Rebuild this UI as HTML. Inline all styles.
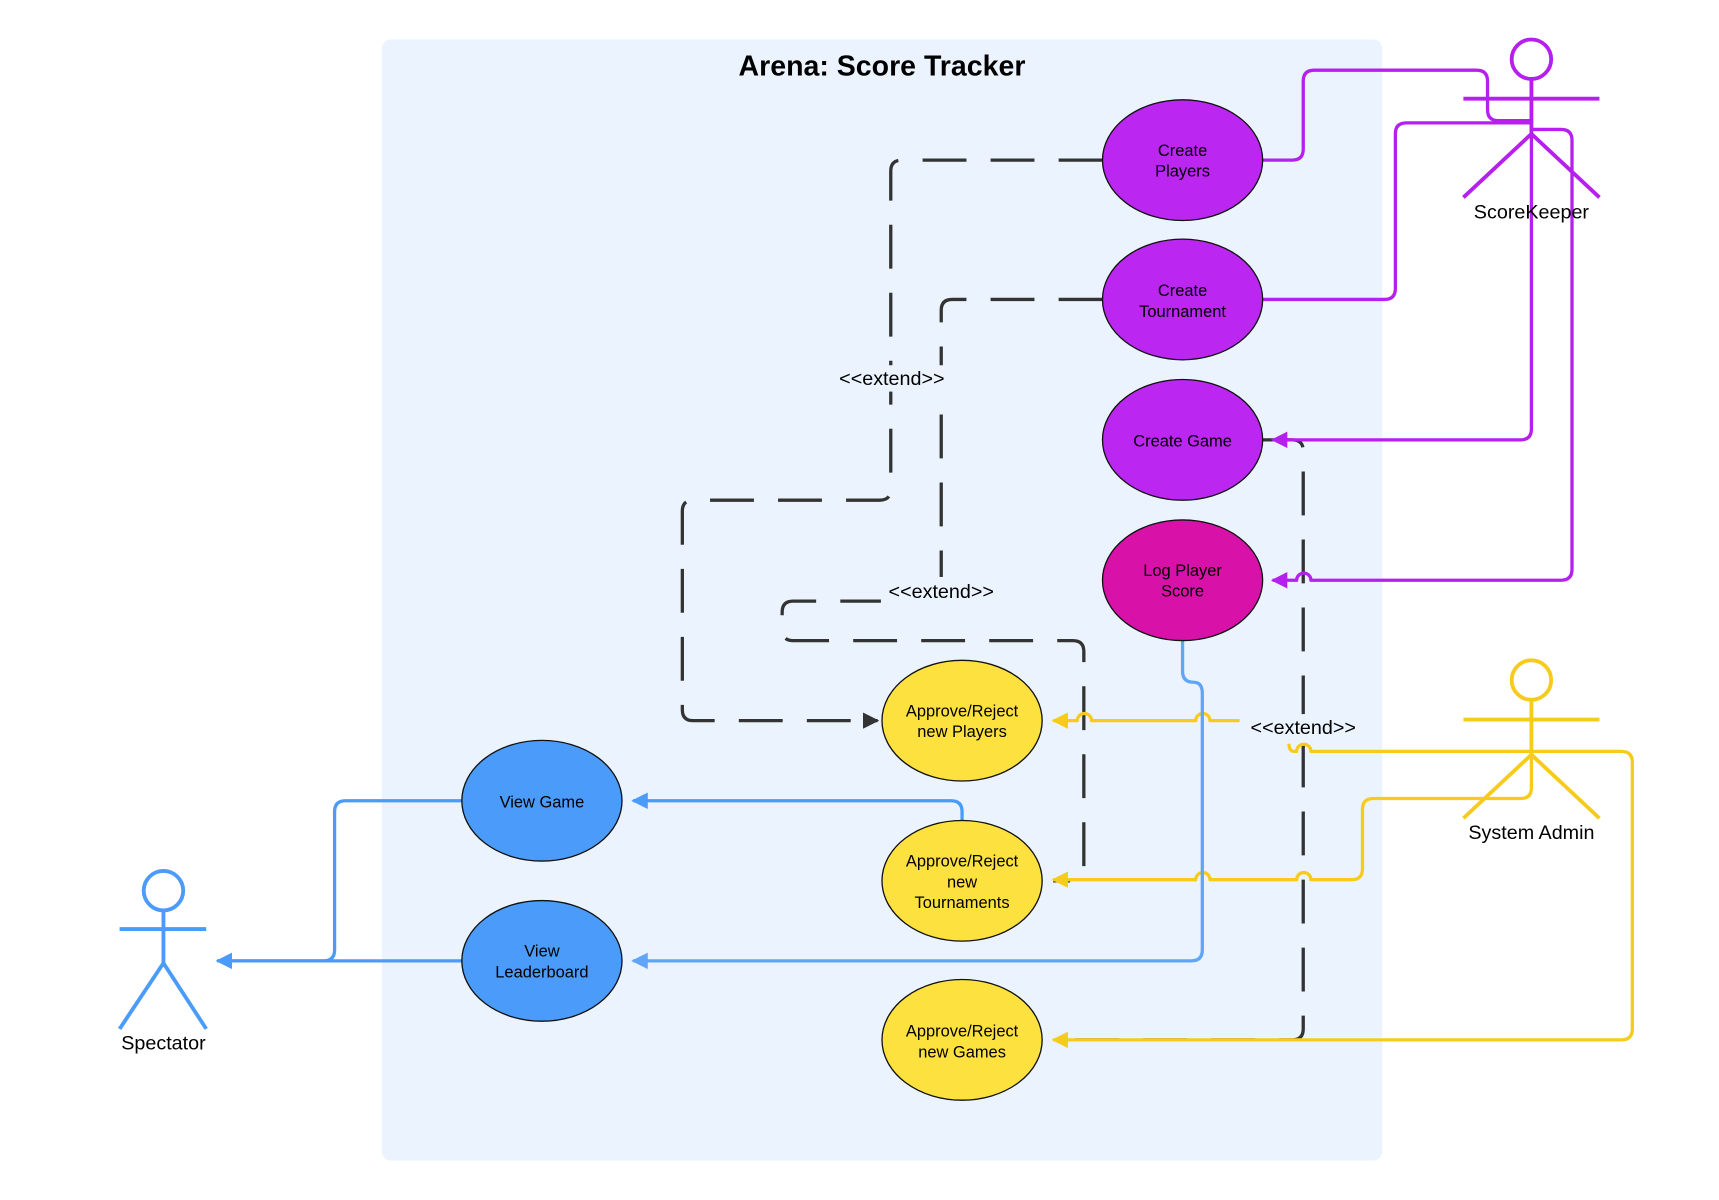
<!DOCTYPE html>
<html><head><meta charset="utf-8"><style>
html,body{margin:0;padding:0;background:#fff;}
svg{display:block;}
text{font-family:"Liberation Sans",sans-serif;}
</style></head><body>
<svg width="1719" height="1200" viewBox="0 0 1567 1094" preserveAspectRatio="none" xmlns="http://www.w3.org/2000/svg">
<defs>
<marker id="ap" viewBox="0 0 10 10" refX="9" refY="5" markerWidth="5" markerHeight="5" orient="auto-start-reverse"><path d="M0,0 L10,5 L0,10 z" fill="#B620EE"/></marker>
<marker id="ay" viewBox="0 0 10 10" refX="9" refY="5" markerWidth="5" markerHeight="5" orient="auto-start-reverse"><path d="M0,0 L10,5 L0,10 z" fill="#F7CB1C"/></marker>
<marker id="ab" viewBox="0 0 10 10" refX="9" refY="5" markerWidth="5" markerHeight="5" orient="auto-start-reverse"><path d="M0,0 L10,5 L0,10 z" fill="#4A9BFA"/></marker>
<marker id="al" viewBox="0 0 10 10" refX="9" refY="5" markerWidth="5" markerHeight="5" orient="auto-start-reverse"><path d="M0,0 L10,5 L0,10 z" fill="#60A5FA"/></marker>
<marker id="ak" viewBox="0 0 10 10" refX="9" refY="5" markerWidth="5" markerHeight="5" orient="auto-start-reverse"><path d="M0,0 L10,5 L0,10 z" fill="#333"/></marker>
</defs>
<rect x="348" y="36" width="912" height="1022" rx="8" fill="#EBF4FE"/>
<text x="804" y="69" font-size="26" font-weight="bold" text-anchor="middle" fill="#000">Arena: Score Tracker</text>

<g fill="none" stroke-width="3" stroke-linejoin="round">
<g stroke="#333" stroke-dasharray="40 22">
<path d="M1005,146 H822 Q812,146 812,156 V446 Q812,456 802,456 H632 Q622,456 622,466 V647 Q622,657 632,657 H800" marker-end="url(#ak)"/>
<path d="M1005,273 H868 Q858,273 858,283 V538 M858,538 V548 H723 Q713,548 713,558 V574 Q713,584 723,584 H978 Q988,584 988,594 V793 Q988,803 978,803 H960"/>
<path d="M1151,401 H1178 Q1188,401 1188,411 V938 Q1188,948 1178,948 H960"/>
</g>
<g stroke="#B620EE">
<path d="M1151,146 H1178 Q1188,146 1188,136 V74 Q1188,64 1198,64 H1346 Q1356,64 1356,74 V100 Q1356,110 1366,110 H1396"/>
<path d="M1151,273 H1262 Q1272,273 1272,263 V122 Q1272,112 1282,112 H1396"/>
<path d="M1396,122 V391 Q1396,401 1386,401 H1160" marker-end="url(#ap)"/>
<path d="M1396,118 H1423 Q1433,118 1433,128 V519 Q1433,529 1423,529 H1195 A6,6 0 0 0 1182,529 H1160" marker-end="url(#ap)"/>
</g>
<g stroke="#F7CB1C">
<path d="M1396,685 H1195 A6,6 0 0 0 1182,685 H1180 Q1175,685 1175,678 M1130,657 H1103 A6,6 0 0 0 1090,657 H995 A6,6 0 0 0 982,657 H960" marker-end="url(#ay)"/>
<path d="M1396,685 H1478 Q1488,685 1488,695 V938 Q1488,948 1478,948 H960" marker-end="url(#ay)"/>
<path d="M1396,688 V718 Q1396,728 1386,728 H1252 Q1242,728 1242,738 V792 Q1242,802 1232,802 H1195 A6,6 0 0 0 1182,802 H1103 A6,6 0 0 0 1090,802 H960" marker-end="url(#ay)"/>
</g>
<path d="M1078,584 V612 Q1078,622 1088,622 Q1096,622 1096,632 V866 Q1096,876 1086,876 H577" stroke="#60A5FA" marker-end="url(#al)"/>
<path d="M877,748 V740 Q877,730 867,730 H577" stroke="#4A9BFA" marker-end="url(#ab)"/>
<path d="M421,730 H315 Q305,730 305,740 V866 Q305,876 295,876 H198" stroke="#4A9BFA" marker-end="url(#ab)"/>
<path d="M421,876 H198" stroke="#4A9BFA"/>
</g>

<g font-size="15" text-anchor="middle" fill="#000">
<rect x="758" y="333" width="110" height="24" fill="#EBF4FE"/>
<text x="813" y="351" font-size="18">&lt;&lt;extend&gt;&gt;</text>
<rect x="803" y="526" width="110" height="24" fill="#EBF4FE"/>
<text x="858" y="545" font-size="18">&lt;&lt;extend&gt;&gt;</text>
<rect x="1132" y="651" width="112" height="24" fill="#EBF4FE"/>
<text x="1188" y="669" font-size="18">&lt;&lt;extend&gt;&gt;</text>
</g>

<g stroke="#111" stroke-width="1.2">
<ellipse cx="1078" cy="146" rx="73" ry="55" fill="#BB26F0"/>
<ellipse cx="1078" cy="273" rx="73" ry="55" fill="#BB26F0"/>
<ellipse cx="1078" cy="401" rx="73" ry="55" fill="#BB26F0"/>
<ellipse cx="1078" cy="529" rx="73" ry="55" fill="#D812A8"/>
<ellipse cx="877" cy="657" rx="73" ry="55" fill="#FDE13F"/>
<ellipse cx="877" cy="803" rx="73" ry="55" fill="#FDE13F"/>
<ellipse cx="877" cy="948" rx="73" ry="55" fill="#FDE13F"/>
<ellipse cx="494" cy="730" rx="73" ry="55" fill="#4A9BFA"/>
<ellipse cx="494" cy="876" rx="73" ry="55" fill="#4A9BFA"/>
</g>
<g font-size="15" text-anchor="middle" fill="#000">
<text x="1078" y="142">Create</text><text x="1078" y="161">Players</text>
<text x="1078" y="270">Create</text><text x="1078" y="289">Tournament</text>
<text x="1078" y="407">Create Game</text>
<text x="1078" y="525">Log Player</text><text x="1078" y="544">Score</text>
<text x="877" y="653">Approve/Reject</text><text x="877" y="672">new Players</text>
<text x="877" y="790">Approve/Reject</text><text x="877" y="809">new</text><text x="877" y="828">Tournaments</text>
<text x="877" y="945">Approve/Reject</text><text x="877" y="964">new Games</text>
<text x="494" y="736">View Game</text>
<text x="494" y="872">View</text><text x="494" y="891">Leaderboard</text>
</g>

<g fill="none" stroke-width="3.5">
<g stroke="#B620EE"><circle cx="1396" cy="54" r="18"/><path d="M1396,72 V122 M1334,90 H1458 M1334,180 L1396,122 L1458,180"/></g>
<g stroke="#F7CB1C"><circle cx="1396" cy="620" r="18"/><path d="M1396,638 V688 M1334,656 H1458 M1334,746 L1396,688 L1458,746"/></g>
<g stroke="#4A9BFA"><circle cx="149" cy="812" r="18"/><path d="M149,830 V878 M109,847 H188 M109,938 L149,878 L188,938"/></g>
</g>
<g font-size="18" text-anchor="middle" fill="#000">
<text x="1396" y="199">ScoreKeeper</text>
<text x="1396" y="765">System Admin</text>
<text x="149" y="957">Spectator</text>
</g>
</svg>
</body></html>
